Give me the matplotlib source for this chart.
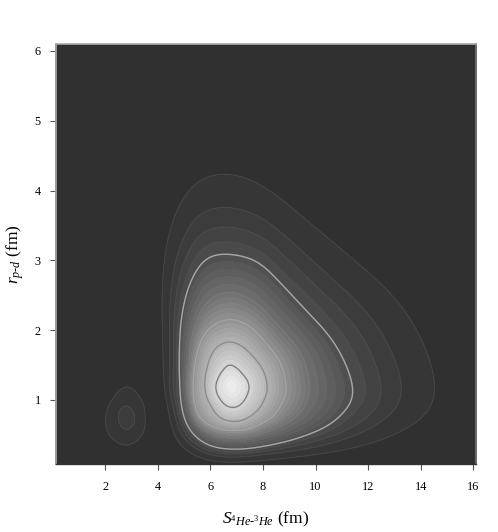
"""Contour density of r_p-d against S_4He-3He, greyscale filled rings."""

import matplotlib
matplotlib.use("Agg")
import matplotlib.pyplot as plt
import matplotlib.tri as mtri
import numpy as np
from matplotlib.colors import LinearSegmentedColormap

plt.rcParams["font.family"] = ["Liberation Serif", "DejaVu Serif"]
plt.rcParams["mathtext.fontset"] = "custom"
plt.rcParams["mathtext.rm"] = "Liberation Serif"
plt.rcParams["mathtext.it"] = "Liberation Serif:italic"
plt.rcParams["mathtext.bf"] = "Liberation Serif:bold"

X_TICKS = [2, 4, 6, 8, 10, 12, 14, 16]
Y_TICKS = [1, 2, 3, 4, 5, 6]

# ring radii read off the picture along rays from the peak,
# unit is 1/79 fm along x, y gets squeezed by the axes aspect
PEAK_X, PEAK_Y = 6.8, 1.19
PEAK_LEVEL = 29
RAYS = [0, 22.5, 45, 67.5, 78.75, 90, 101.25, 112.5, 123.75, 135, 157.5, 180,
        202.5, 225, 247.5, 270, 292.5, 315, 326.25, 337.5, 348.75]
RING_0 = [680, 635, 585, 610, 660, 700, 680, 545, 410, 325, 245, 222, 222, 255, 255, 245, 260, 325, 390, 490, 620]
RING_1 = [620, 577, 530, 553, 600, 642, 620, 496, 372, 294, 222, 202, 203, 233, 235, 227, 240, 296, 355, 449, 566]
RING_2 = [518, 479, 444, 471, 512, 540, 528, 429, 329, 263, 200, 187, 186, 212, 216, 212, 222, 271, 320, 392, 478]
RING_3 = [455, 422, 394, 422, 460, 480, 474, 389, 303, 245, 188, 175, 176, 199, 206, 203, 212, 255, 296, 359, 427]
RING_4 = [408, 375, 355, 382, 418, 435, 431, 357, 283, 230, 178, 165, 170, 189, 197, 198, 205, 243, 278, 332, 380]
RING_5 = [368, 339, 320, 352, 385, 398, 395, 332, 266, 219, 170, 155, 162, 181, 190, 188, 198, 233, 265, 311, 352]
RING_10 = [235, 235, 227, 251, 271, 285, 277, 244, 205, 175, 141, 135, 137, 153, 156, 155, 162, 181, 198, 219, 232]
RING_15 = [165, 165, 165, 183, 195, 203, 198, 185, 165, 146, 122, 115, 121, 134, 133, 132, 138, 146, 154, 158, 163]
RING_20 = [108, 108, 109, 120, 128, 135, 133, 125, 111, 99, 85, 80, 81, 85, 99, 105, 107, 106, 106, 106, 107]
RING_25 = [53, 52, 50, 56, 60, 65, 64, 58, 53, 50, 47, 47, 48, 50, 57, 63, 62, 56, 54, 53, 53]
RINGS = [RING_0, RING_1, RING_2, RING_3, RING_4, RING_5, RING_10, RING_15, RING_20, RING_25]
RING_LEVELS = [0, 1, 2, 3, 4, 5, 10, 15, 20, 25]

# small bump at lower left
BUMP_X, BUMP_Y = 2.82, 0.75
BUMP_PEAK = 2.6
BUMP_RAYS = [0, 45, 90, 135, 180, 225, 270, 315]
BUMP_0 = [63, 76, 112, 76, 72, 86, 98, 80]
BUMP_1 = [55, 68, 100, 68, 64, 77, 88, 71]
BUMP_2 = [23, 26, 37, 30, 25, 30, 38, 30]
BUMP_RINGS = [BUMP_0, BUMP_1, BUMP_2]
BUMP_LEVELS = [0, 1, 2]

FILL_LEVELS = list(range(1, 30))
FAINT_LEVELS = [1, 2, 3, 4]
LINE_LEVELS = [5, 10, 15, 20, 25]
LINE_COLORS = ["#a8a8a8", "#7c7c7c", "#a6a6a6", "#8c8c8c", "#808080"]
LINE_WIDTHS = [1.0, 0.5, 0.7, 1.0, 1.0]

XLIM = (0.13, 16.1)
YLIM = (0.083, 6.1)
Y_SQUEEZE = 26.3 / 69.8


def _smooth_closed(px, py, steps=8, window=9):
    """Closed Catmull-Rom curve through the ring's points, corners eased off."""
    n = len(px)
    out_x, out_y = [], []
    t = np.arange(steps) / steps
    for i in range(n):
        for arr, out in ((px, out_x), (py, out_y)):
            p0, p1, p2, p3 = arr[i - 1], arr[i], arr[(i + 1) % n], arr[(i + 2) % n]
            out.extend(0.5 * (2 * p1 + (p2 - p0) * t + (2 * p0 - 5 * p1 + 4 * p2 - p3) * t ** 2
                              + (3 * p1 - p0 - 3 * p2 + p3) * t ** 3))
    kernel = np.ones(window) / window
    pad = window // 2
    out = []
    for vals in (out_x, out_y):
        wrapped = np.concatenate([vals[-pad:], vals, vals[:pad]])
        out.append(np.convolve(wrapped, kernel, mode="valid"))
    return out[0], out[1]


def _mesh(cx, cy, rays, rings, levels, peak):
    """Structured mesh between rings plus a fan to the peak."""
    ang = np.radians(rays)
    xs, ys, zs = [], [], []
    n = 0
    for ring, lev in zip(rings, levels):
        r = np.array(ring) / 79.0
        sx, sy = _smooth_closed(r * np.cos(ang), r * np.sin(ang) * Y_SQUEEZE)
        n = len(sx)
        xs.extend(cx + sx)
        ys.extend(cy + sy)
        zs.extend([lev] * n)
    xs.append(cx)
    ys.append(cy)
    zs.append(peak)

    m = len(rings)
    tris = []
    for i in range(m - 1):
        for j in range(n):
            a = i * n + j
            b = i * n + (j + 1) % n
            c = (i + 1) * n + j
            d = (i + 1) * n + (j + 1) % n
            tris.append([a, b, d])
            tris.append([a, d, c])
    centre = m * n
    for j in range(n):
        tris.append([(m - 1) * n + j, (m - 1) * n + (j + 1) % n, centre])

    tri = mtri.Triangulation(np.array(xs), np.array(ys), np.array(tris))
    return tri, np.array(zs, dtype=float)


cmap = LinearSegmentedColormap.from_list("bands", ["#363636", "#ececec"])

fig = plt.figure(figsize=(4.98, 5.32), dpi=100)
ax = fig.add_axes([56 / 498, 1 - 464 / 532, 420 / 498, 420 / 532])
ax.set_facecolor("#303030")

for cx, cy, rays, rings, levels, peak in [
    (PEAK_X, PEAK_Y, RAYS, RINGS, RING_LEVELS, PEAK_LEVEL),
    (BUMP_X, BUMP_Y, BUMP_RAYS, BUMP_RINGS, BUMP_LEVELS, BUMP_PEAK),
]:
    tri, z = _mesh(cx, cy, rays, rings, levels, peak)
    cs = ax.tricontourf(tri, z, levels=FILL_LEVELS, cmap=cmap, vmin=1.5, vmax=28.5)
    cs.set_edgecolor("face")
    cs.set_linewidth(0.5)
    ax.tricontour(tri, z, levels=FAINT_LEVELS, colors="#505050", linewidths=0.4)
    ax.tricontour(tri, z, levels=LINE_LEVELS, colors=LINE_COLORS, linewidths=LINE_WIDTHS)

ax.set_xlim(*XLIM)
ax.set_ylim(*YLIM)
ax.set_xticks(X_TICKS)
ax.set_yticks(Y_TICKS)
ax.tick_params(length=4, width=0.8, color="#555555", labelsize=8.8, pad=8)
ax.tick_params(axis="y", pad=7)
ax.spines["left"].set_color("#999999")
ax.spines["top"].set_color("#aaaaaa")
ax.spines["right"].set_color("#6a6a6a")
ax.spines["left"].set_linewidth(1.4)
ax.spines["top"].set_linewidth(1.2)
ax.spines["right"].set_linewidth(1.4)
ax.spines["bottom"].set_color("#333333")
ax.spines["bottom"].set_linewidth(1.0)

ax.set_xlabel(r"$S_{{}^{4}He\text{-}{}^{3}He}$ (fm)", fontsize=12.5, labelpad=12)
ax.set_ylabel(r"$r_{p\text{-}d}$ (fm)", fontsize=12.5, labelpad=6)

fig.savefig("out.png", dpi=100)
plt.close(fig)
